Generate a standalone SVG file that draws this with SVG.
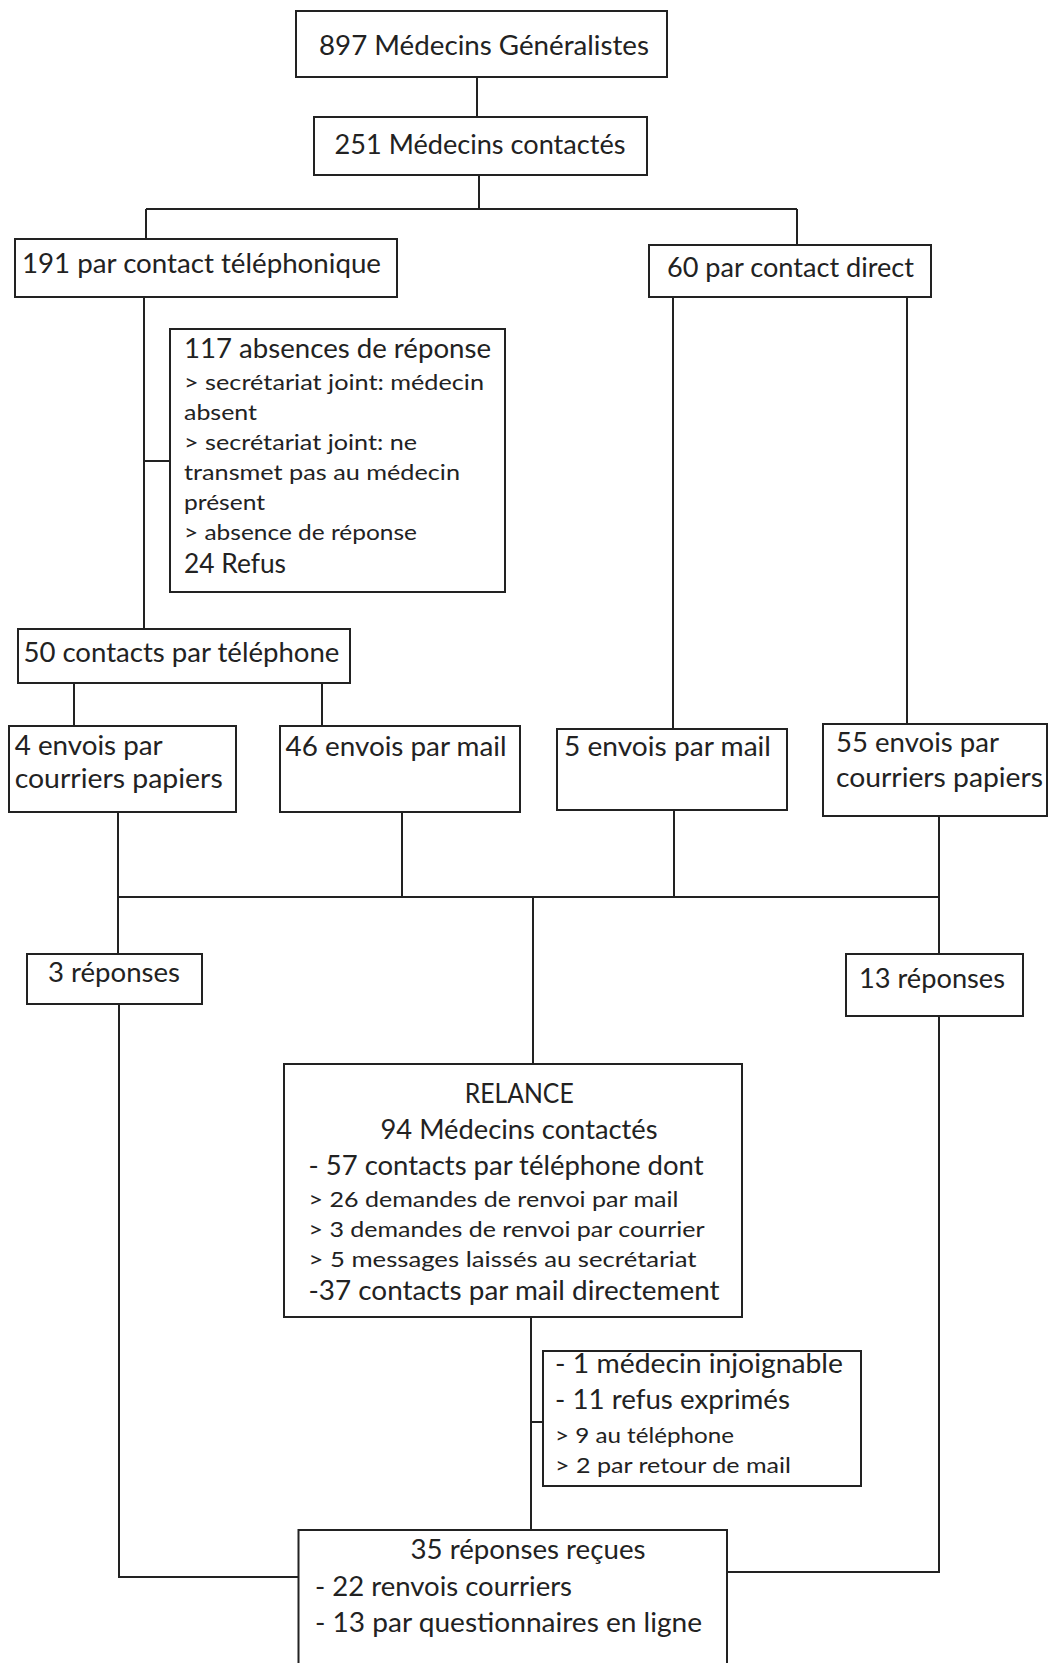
<svg xmlns="http://www.w3.org/2000/svg" width="1049" height="1663" viewBox="0 0 1049 1663">
<style>
.box{fill:#fff;stroke:#222;stroke-width:2}
.ln{fill:none;stroke:#222;stroke-width:2}
text{font-family:Lato,"Open Sans","Liberation Sans",sans-serif;fill:#222;font-size:26px}
.s{font-size:22px}
</style>
<rect width="1049" height="1663" fill="#fff"/>
<g id="connectors">
<path class="ln" d="M477,77V117"/>
<path class="ln" d="M479,175V209M146,209H797M146,209V239M797,209V245"/>
<path class="ln" d="M144,297V629M144,461H170"/>
<path class="ln" d="M74,683V726M322,683V726"/>
<path class="ln" d="M673,297V729M907,297V724"/>
<path class="ln" d="M118,812V954M402,812V897M674,810V897M939,816V954M118,897H939"/>
<path class="ln" d="M533,897V1064"/>
<path class="ln" d="M119,1004V1577H298"/>
<path class="ln" d="M531,1317V1530M531,1422H543"/>
<path class="ln" d="M939,1016V1572H727"/>
</g>
<g id="n1"><rect class="box" x="296" y="11" width="371" height="66"/>
<text x="319" y="55" textLength="330" lengthAdjust="spacingAndGlyphs">897 Médecins Généralistes</text></g>
<g id="n2"><rect class="box" x="314" y="117" width="333" height="58"/>
<text x="334.5" y="154" textLength="291" lengthAdjust="spacingAndGlyphs">251 Médecins contactés</text></g>
<g id="n3"><rect class="box" x="15" y="239" width="382" height="58"/>
<text x="22" y="273" textLength="359" lengthAdjust="spacingAndGlyphs">191 par contact téléphonique</text></g>
<g id="n4"><rect class="box" x="649" y="245" width="282" height="52"/>
<text x="667" y="277" textLength="247" lengthAdjust="spacingAndGlyphs">60 par contact direct</text></g>
<g id="n5"><rect class="box" x="170" y="329" width="335" height="263"/>
<text x="184" y="358" font-size="25" textLength="307" lengthAdjust="spacingAndGlyphs">117 absences de réponse</text>
<text class="s" x="184" y="390" textLength="300" lengthAdjust="spacingAndGlyphs">&gt; secrétariat joint: médecin</text>
<text class="s" x="184" y="420" textLength="73" lengthAdjust="spacingAndGlyphs">absent</text>
<text class="s" x="184" y="450" textLength="233" lengthAdjust="spacingAndGlyphs">&gt; secrétariat joint: ne</text>
<text class="s" x="184" y="480" textLength="276" lengthAdjust="spacingAndGlyphs">transmet pas au médecin</text>
<text class="s" x="184" y="510" textLength="81" lengthAdjust="spacingAndGlyphs">présent</text>
<text class="s" x="184" y="540" textLength="233" lengthAdjust="spacingAndGlyphs">&gt; absence de réponse</text>
<text x="184" y="573" font-size="25" textLength="102" lengthAdjust="spacingAndGlyphs">24 Refus</text></g>
<g id="n6"><rect class="box" x="18" y="629" width="332" height="54"/>
<text x="23.4" y="662" textLength="316" lengthAdjust="spacingAndGlyphs">50 contacts par téléphone</text></g>
<g id="n7"><rect class="box" x="9" y="726" width="227" height="86"/>
<text x="14.7" y="755" textLength="148" lengthAdjust="spacingAndGlyphs">4 envois par</text>
<text x="14.7" y="788" textLength="208" lengthAdjust="spacingAndGlyphs">courriers papiers</text></g>
<g id="n8"><rect class="box" x="280" y="726" width="240" height="86"/>
<text x="285.6" y="756" textLength="221" lengthAdjust="spacingAndGlyphs">46 envois par mail</text></g>
<g id="n9"><rect class="box" x="557" y="729" width="230" height="81"/>
<text x="564" y="756" textLength="207" lengthAdjust="spacingAndGlyphs">5 envois par mail</text></g>
<g id="n10"><rect class="box" x="823" y="724" width="224" height="92"/>
<text x="836" y="752" textLength="163" lengthAdjust="spacingAndGlyphs">55 envois par</text>
<text x="836" y="787" textLength="207" lengthAdjust="spacingAndGlyphs">courriers papiers</text></g>
<g id="n11"><rect class="box" x="27" y="954" width="175" height="50"/>
<text x="48" y="982" textLength="132" lengthAdjust="spacingAndGlyphs">3 réponses</text></g>
<g id="n12"><rect class="box" x="846" y="954" width="177" height="62"/>
<text x="859" y="988" textLength="146" lengthAdjust="spacingAndGlyphs">13 réponses</text></g>
<g id="n13"><rect class="box" x="284" y="1064" width="458" height="253"/>
<text x="464.7" y="1103" font-size="24" textLength="109" lengthAdjust="spacingAndGlyphs">RELANCE</text>
<text x="380.5" y="1139" textLength="277" lengthAdjust="spacingAndGlyphs">94 Médecins contactés</text>
<text x="308.5" y="1175" textLength="395" lengthAdjust="spacingAndGlyphs">- 57 contacts par téléphone dont</text>
<text class="s" x="308.5" y="1207" textLength="370" lengthAdjust="spacingAndGlyphs">&gt; 26 demandes de renvoi par mail</text>
<text class="s" x="308.5" y="1237" textLength="396" lengthAdjust="spacingAndGlyphs">&gt; 3 demandes de renvoi par courrier</text>
<text class="s" x="308.5" y="1267" textLength="388" lengthAdjust="spacingAndGlyphs">&gt; 5 messages laissés au secrétariat</text>
<text x="308.5" y="1300" textLength="411" lengthAdjust="spacingAndGlyphs">-37 contacts par mail directement</text></g>
<g id="n14"><rect class="box" x="543" y="1351" width="318" height="135"/>
<text x="555" y="1373" textLength="288" lengthAdjust="spacingAndGlyphs">- 1 médecin injoignable</text>
<text x="555" y="1409" textLength="235" lengthAdjust="spacingAndGlyphs">- 11 refus exprimés</text>
<text class="s" x="555" y="1443" textLength="179" lengthAdjust="spacingAndGlyphs">&gt; 9 au téléphone</text>
<text class="s" x="555" y="1473" textLength="236" lengthAdjust="spacingAndGlyphs">&gt; 2 par retour de mail</text></g>
<g id="n15"><rect class="box" x="298.5" y="1530" width="428.5" height="150"/>
<text x="410.5" y="1559" textLength="235" lengthAdjust="spacingAndGlyphs">35 réponses reçues</text>
<text x="315" y="1596" textLength="257" lengthAdjust="spacingAndGlyphs">- 22 renvois courriers</text>
<text x="315" y="1632" textLength="387" lengthAdjust="spacingAndGlyphs">- 13 par questionnaires en ligne</text></g>
</svg>
